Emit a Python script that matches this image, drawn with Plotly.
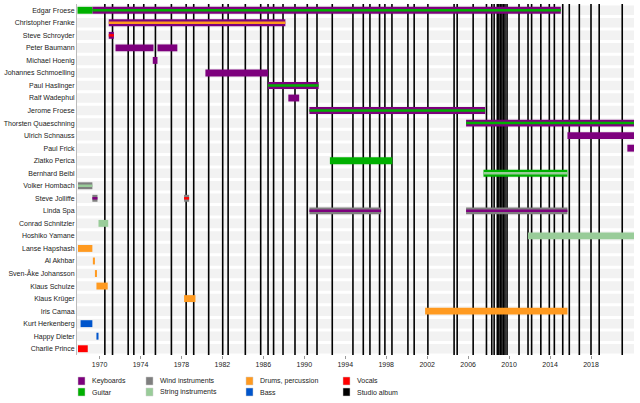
import plotly.graph_objects as go

members = ["Edgar Froese","Christopher Franke","Steve Schroyder","Peter Baumann","Michael Hoenig",
"Johannes Schmoelling","Paul Haslinger","Ralf Wadephul","Jerome Froese","Thorsten Quaeschning",
"Ulrich Schnauss","Paul Frick","Zlatko Perica","Bernhard Beibl","Volker Hombach","Steve Jolliffe",
"Linda Spa","Conrad Schnitzler","Hoshiko Yamane","Lanse Hapshash","Al Akhbar","Sven-Åke Johansson",
"Klaus Schulze","Klaus Krüger","Iris Camaa","Kurt Herkenberg","Happy Dieter","Charlie Prince"]

END = 2022.2
seg_member = ["Edgar Froese","Edgar Froese","Christopher Franke","Steve Schroyder","Peter Baumann","Peter Baumann",
"Michael Hoenig","Johannes Schmoelling","Paul Haslinger","Ralf Wadephul","Jerome Froese","Thorsten Quaeschning",
"Ulrich Schnauss","Paul Frick","Zlatko Perica","Bernhard Beibl","Volker Hombach","Steve Jolliffe","Steve Jolliffe",
"Linda Spa","Linda Spa","Conrad Schnitzler","Hoshiko Yamane","Lanse Hapshash","Al Akhbar","Sven-Åke Johansson",
"Klaus Schulze","Klaus Krüger","Iris Camaa","Kurt Herkenberg","Happy Dieter","Charlie Prince"]
seg_start = [1967.85,1969.3,1970.9,1970.9,1971.56,1975.66,1975.2,1980.34,1986.46,1988.44,1990.5,2005.8,
2015.7,2021.55,1992.5,2007.5,1967.9,1969.3,1978.26,1990.5,2005.8,1969.9,2011.85,1967.9,1969.35,1969.55,
1969.7,1978.26,2001.8,1968.15,1969.7,1967.9]
seg_end = [1969.3,2015.05,1988.15,1971.4,1975.27,1977.6,1975.66,1986.46,1991.4,1989.5,2007.66,END,
END,END,1998.6,2015.7,1969.3,1969.8,1978.75,1997.5,2015.7,1970.85,END,1969.3,1969.55,1969.75,
1970.8,1979.37,2015.7,1969.3,1969.9,1968.85]
seg_main = ["Guitar","Keyboards","Keyboards","Keyboards","Keyboards","Keyboards","Keyboards","Keyboards",
"Keyboards","Keyboards","Keyboards","Keyboards","Keyboards","Keyboards","Guitar","Guitar","Wind instruments",
"Wind instruments","Wind instruments","Wind instruments","Wind instruments","String instruments",
"String instruments","Drums, percussion","Drums, percussion","Drums, percussion","Drums, percussion",
"Drums, percussion","Drums, percussion","Bass","Bass","Vocals"]
seg_stripe = [None,"Guitar","Drums, percussion","Vocals",None,None,None,None,"Guitar",None,"Guitar","Guitar",
None,None,None,"String instruments","String instruments","Keyboards","Vocals","Keyboards","Keyboards",None,None,
None,None,None,None,None,None,None,None,None]

albums = [1970.52,1971.27,1972.8,1973.35,1974.32,1975.46,1977.02,1978.46,1979.2,1980.66,1982.03,1982.56,
1984.24,1985.74,1986.46,1987.0,1987.92,1989.09,1990.29,1991.24,1992.73,1994.75,1995.76,1996.41,1997.35,
1997.87,1998.56,2000.12,2000.73,2002.07,2004.63,2004.93,2006.49,2007.79,2008.31,2008.54,2008.85,2009.0,
2009.15,2009.3,2009.45,2009.6,2009.8,2010.97,2011.85,2012.2,2013.1,2013.93,2014.42,2015.24,2015.88,
2016.86,2018.0,2018.8,2021.05]

tick_years = list(range(1970, 2019, 4))

legend_items = ["Keyboards","Guitar","Wind instruments","String instruments","Drums, percussion","Bass","Vocals","Studio album"]
colors = {"Keyboards":"#7d007d","Guitar":"#00b000","Wind instruments":"#7f7f7f","String instruments":"#99cc99",
"Drums, percussion":"#ff9a20","Bass":"#0055cc","Vocals":"#ff0000","Studio album":"#000000"}

W, H = 640, 403
L, R, T, B = 77, 6, 4, 48
PW, PH = W - L - R, H - T - B

fig = go.Figure()
shapes = []
for m in members:
    shapes.append(dict(type="rect", xref="paper", yref="y", x0=0, x1=1, y0=members.index(m)-0.38,
                       y1=members.index(m)+0.38, fillcolor="#f2f2f2", line_width=0, layer="below"))
for a in albums:
    shapes.append(dict(type="line", xref="x", yref="paper", x0=a, x1=a, y0=0, y1=1,
                       line=dict(color="black", width=1.6), layer="below"))

ymap = {m: i for i, m in enumerate(members)}
for inst in legend_items[:-1]:
    idx = [i for i in range(len(seg_member)) if seg_main[i] == inst]
    if idx:
        fig.add_bar(orientation="h", y=[ymap[seg_member[i]] for i in idx],
                    x=[seg_end[i]-seg_start[i] for i in idx], base=[seg_start[i] for i in idx],
                    width=0.55, marker=dict(color=colors[inst], line_width=0), showlegend=False, hoverinfo="skip")
for inst in legend_items[:-1]:
    idx = [i for i in range(len(seg_member)) if seg_stripe[i] == inst]
    if idx:
        fig.add_bar(orientation="h", y=[ymap[seg_member[i]] for i in idx],
                    x=[seg_end[i]-seg_start[i] for i in idx], base=[seg_start[i] for i in idx],
                    width=0.2, marker=dict(color=colors[inst], line_width=0), showlegend=False, hoverinfo="skip")

col_x = [78, 146, 246, 343]
row_y = [381, 392]
ann = []
for k, name in enumerate(legend_items):
    cx = col_x[k // 2]; cy = row_y[k % 2]
    shapes.append(dict(type="rect", xref="paper", yref="paper",
                       x0=(cx-L)/PW, x1=(cx-L+7)/PW,
                       y0=(H-B-cy-4)/PH, y1=(H-B-cy+4)/PH,
                       fillcolor=colors[name], line=dict(color="#cccccc", width=0.5)))
    ann.append(dict(xref="paper", yref="paper", x=(cx-L+12)/PW, y=(H-B-cy)/PH, text=name,
                    showarrow=False, xanchor="left", yanchor="middle", font=dict(size=7, color="#222")))

fig.update_layout(
    width=W, height=H, margin=dict(l=L, r=R, t=T, b=B, autoexpand=False), barmode="overlay",
    plot_bgcolor="white", paper_bgcolor="white", shapes=shapes, annotations=ann,
    font=dict(family="Liberation Sans, Arial", size=7, color="#222"),
    xaxis=dict(range=[1967.8, END], tickvals=tick_years, ticktext=[str(t) for t in tick_years],
               showgrid=False, zeroline=False, ticks="outside", ticklen=3, tickcolor="#999",
               showline=False, tickfont=dict(size=7), automargin=False),
    yaxis=dict(range=[len(members)-0.5, -0.5], tickvals=list(range(len(members))), ticktext=members,
               showgrid=False, zeroline=False, showline=True, linecolor="#bbbbbb", ticks="", ticklen=0,
               tickfont=dict(size=7), automargin=False),
)
fig.write_html("out.html", config={"displayModeBar": False},
               post_script="document.body.style.margin='0';document.body.style.overflow='hidden';")
